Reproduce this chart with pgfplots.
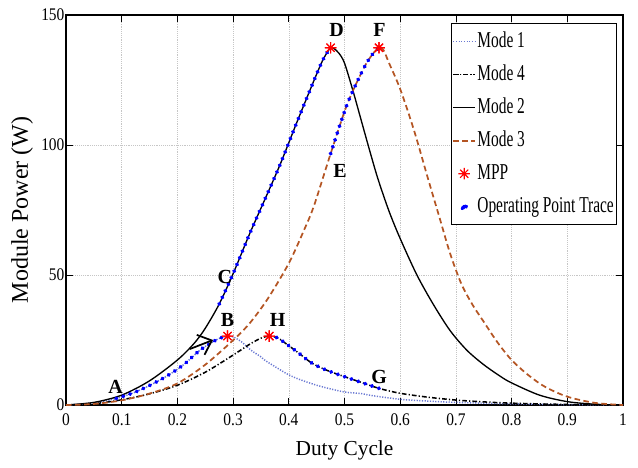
\documentclass[border=0pt]{standalone}
\usepackage{fontspec}
\setmainfont{Liberation Serif}
\newfontfamily\tickfont{Liberation Serif}[FakeStretch=0.87]
\newfontfamily\legfont{Liberation Serif}[FakeStretch=0.68]
\usepackage{pgfplots}
\pgfplotsset{compat=1.18}
\usepackage{pgfplotstable}
\usetikzlibrary{arrows.meta}

\definecolor{modeone}{RGB}{105,120,210}
\definecolor{modethree}{RGB}{180,85,35}
\definecolor{tracecol}{RGB}{0,0,255}

\pgfdeclareplotmark{mpp}{%
  \pgfpathmoveto{\pgfpointpolar{0}{\pgfplotmarksize}}\pgfpathlineto{\pgfpointpolar{180}{\pgfplotmarksize}}%
  \pgfpathmoveto{\pgfpointpolar{90}{\pgfplotmarksize}}\pgfpathlineto{\pgfpointpolar{270}{\pgfplotmarksize}}%
  \pgfpathmoveto{\pgfpointpolar{45}{\pgfplotmarksize}}\pgfpathlineto{\pgfpointpolar{225}{\pgfplotmarksize}}%
  \pgfpathmoveto{\pgfpointpolar{135}{\pgfplotmarksize}}\pgfpathlineto{\pgfpointpolar{315}{\pgfplotmarksize}}%
  \pgfusepathqstroke}

% Mode 1
\pgfplotstableread{
x y
0 0
0.05 0.8
0.09 2.5
0.12 4.6
0.15 7.5
0.18 11.0
0.21 15.3
0.24 21.0
0.26 23.8
0.275 25.6
0.29 26.5
0.30 26.2
0.315 24.3
0.332 21.1
0.35 18.5
0.36 16.8
0.40 11.6
0.43 9.0
0.46 7.0
0.50 5.0
0.53 4.4
0.55 3.6
0.60 2.2
0.65 1.5
0.70 1.0
0.80 0.45
0.90 0.15
1.0 0
}\tabA

% Mode 2
\pgfplotstableread{
x y
0 0
0.05 1.0
0.10 3.8
0.15 9.3
0.20 17.3
0.23 23.7
0.25 29.5
0.275 38.8
0.30 50.5
0.33 66.0
0.36 80.5
0.385 92.8
0.415 109
0.445 124.7
0.46 132.2
0.47 136.0
0.475 137.4
0.48 137.3
0.49 135.3
0.50 131.5
0.515 121
0.53 109.5
0.545 98
0.56 87
0.58 74.5
0.60 64
0.63 50
0.66 38.5
0.69 28.5
0.72 21
0.75 15.5
0.78 11
0.80 8.5
0.85 3.8
0.90 1.3
0.95 0.3
1.0 0
}\tabB

% Mode 3
\pgfplotstableread{
x y
0 0
0.05 0.4
0.10 1.8
0.15 4.4
0.20 8.3
0.25 15.5
0.30 24.9
0.33 31.5
0.362 40.8
0.40 54.5
0.427 67.1
0.445 76.5
0.475 96.6
0.505 115.8
0.535 129.7
0.55 134.8
0.562 137.4
0.57 136.5
0.58 131.5
0.60 121.5
0.625 105.5
0.65 87
0.67 72.5
0.69 58
0.71 46.5
0.73 38.5
0.75 32
0.775 24
0.80 17.3
0.83 11.5
0.86 7
0.90 3.2
0.95 0.8
1.0 0
}\tabC

% Mode 4
\pgfplotstableread{
x y
0 0
0.05 0.5
0.10 2.0
0.15 4.3
0.20 7.6
0.25 12.6
0.30 19.2
0.33 23.4
0.35 25.7
0.365 26.5
0.38 25.8
0.40 22.8
0.42 19.6
0.44 16.3
0.46 14.1
0.48 12.4
0.50 10.9
0.53 8.7
0.562 6.4
0.60 4.5
0.65 3.0
0.70 1.9
0.75 1.2
0.80 0.7
0.90 0.2
1.0 0
}\tabD

\begin{document}
\begin{tikzpicture}
\begin{axis}[
  scale only axis, width=417.75pt, height=292.5pt,
  xmin=0, xmax=1, ymin=0, ymax=150,
  xtick={0,0.1,0.2,0.3,0.4,0.5,0.6,0.7,0.8,0.9,1},
  ytick={0,50,100,150},
  grid=major, grid style={densely dotted, gray!45, line width=0.4pt},
  tick align=inside, major tick length=5pt,
  tick style={black, line width=0.6pt},
  axis line style={black, line width=0.8pt},
  ticklabel style={font=\fontsize{13.3}{15}\tickfont},
  /pgf/number format/assume math mode=true,
  xticklabel style={yshift=-3pt},
  yticklabel style={inner xsep=1pt},
  xlabel={Duty Cycle}, ylabel={Module Power (W)},
  xlabel style={font=\fontsize{16}{19}\selectfont, at={(axis description cs:0.5,-0.1154)}, anchor=center},
  ylabel style={font=\fontsize{18}{21}\selectfont, at={(axis description cs:-0.079,0.5)}, anchor=center},
  legend style={at={(rel axis cs:0.989,0.979)}, anchor=north east,
    font=\fontsize{17}{20}\legfont, draw=black, line width=0.6pt,
    inner sep=1pt, row sep=0pt, cells={anchor=west},
    nodes={text height=13pt, text depth=4pt, inner ysep=3.9pt, inner xsep=1pt}},
  legend image code/.code={\draw[mark repeat=2,mark phase=2,#1] plot coordinates {(0pt,0pt) (8.25pt,0pt) (16.5pt,0pt)};},
  tracestyle/.style={tracecol, line width=2.9pt, dash pattern=on 0.4pt off 5pt, line cap=round, smooth},
  mppstyle/.style={only marks, mark=mpp, mark size=4.3pt, red, mark options={line width=0.85pt}},
]
\addplot[modeone, line width=1.1pt, dash pattern=on 0.9pt off 1.1pt, smooth] table {\tabA};
\addlegendentry{Mode 1}
\addplot[black, line width=1.15pt, dash pattern=on 3.5pt off 1.6pt on 0.9pt off 1.6pt, smooth] table {\tabD};
\addlegendentry{Mode 4}
\addplot[black, line width=1pt, smooth] table {\tabB};
\addlegendentry{Mode 2}
\addplot[modethree, line width=1.3pt, dash pattern=on 4.2pt off 2.6pt, smooth] table {\tabC};
\addlegendentry{Mode 3}
\addplot[mppstyle] coordinates {(0.29,26.5) (0.365,26.5) (0.475,137.4) (0.562,137.4)};
\addlegendentry{MPP}
\addplot[tracestyle, restrict x to domain=0.089:0.291,
  legend image code/.code={\fill[tracecol] (8.25pt,0pt) circle (1.5pt);}] table {\tabA};
\addlegendentry{Operating Point Trace}
\addplot[forget plot, tracestyle, restrict x to domain=0.274:0.476] table {\tabB};
\addplot[forget plot, tracestyle, restrict x to domain=0.474:0.563] table {\tabC};
\addplot[forget plot, tracestyle, restrict x to domain=0.364:0.563] table {\tabD};
\addplot[forget plot, mppstyle] coordinates {(0.29,26.5) (0.365,26.5) (0.475,137.4) (0.562,137.4)};

\draw[line width=1.3pt, -{Straight Barb[length=9pt,width=16pt]}] (axis cs:0.222,21.5) -- (axis cs:0.264,25.0);

\begin{scope}[every node/.style={font=\fontsize{15}{18}\selectfont\bfseries}]
\node at (axis cs:0.089,7.0) {A};
\node at (axis cs:0.290,32.6) {B};
\node at (axis cs:0.285,49.2) {C};
\node at (axis cs:0.486,144.2) {D};
\node at (axis cs:0.492,90.1) {E};
\node at (axis cs:0.563,144.2) {F};
\node at (axis cs:0.562,10.9) {G};
\node at (axis cs:0.380,32.6) {H};
\end{scope}
\end{axis}
\pgfresetboundingbox
\path ([xshift=-49.5pt,yshift=-46.5pt]current axis.south west) rectangle ([xshift=11.25pt,yshift=11.25pt]current axis.north east);
\end{tikzpicture}
\end{document}
